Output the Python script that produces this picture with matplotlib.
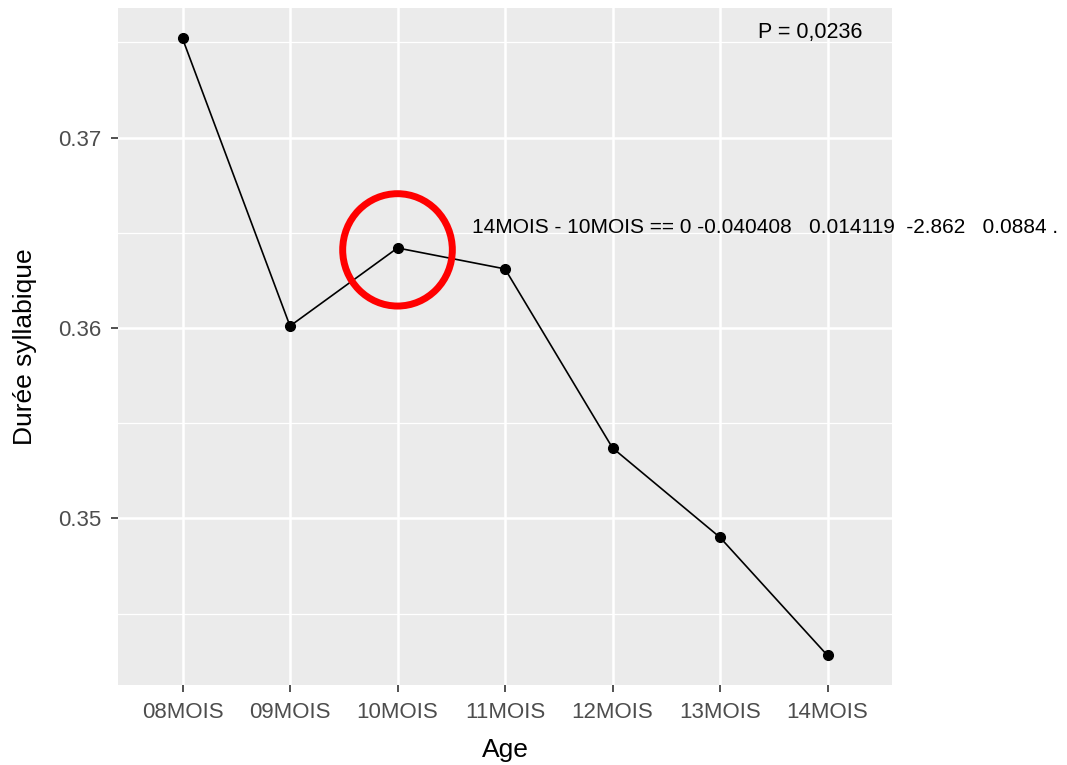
import numpy as np
import matplotlib.pyplot as plt
from matplotlib.patches import Ellipse
from matplotlib.ticker import MultipleLocator

plt.rcParams['font.family'] = ['Liberation Sans', 'DejaVu Sans']

ages = ['08MOIS', '09MOIS', '10MOIS', '11MOIS', '12MOIS', '13MOIS', '14MOIS']
duree = [0.3752, 0.3601, 0.3642, 0.3631, 0.3537, 0.3490, 0.3428]

annot_text = '14MOIS - 10MOIS == 0 -0.040408   0.014119  -2.862   0.0884 .'
p_text = 'P = 0,0236'

fig = plt.figure(figsize=(10.67, 7.65), dpi=100)
ax = fig.add_axes([0.1106, 0.1046, 0.7254, 0.8849])
ax.set_facecolor('#EBEBEB')

x = np.arange(1, len(ages) + 1)
ax.plot(x, duree, color='black', lw=1.2, marker='o', ms=7, zorder=3)

ax.set_xlim(0.4, len(ages) + 0.6)
ax.set_xticks(x)
ax.set_xticklabels(ages)
ax.yaxis.set_minor_locator(MultipleLocator(0.005))
ax.set_yticks([0.35, 0.36, 0.37])
ax.set_yticklabels(['0.35', '0.36', '0.37'])
ax.set_ylim(0.34125, 0.37680)

ax.grid(which='major', color='white', lw=1.8)
ax.grid(which='minor', axis='y', color='white', lw=0.9)
ax.set_axisbelow(True)
for s in ax.spines.values():
    s.set_visible(False)
ax.tick_params(which='major', colors='#333333', labelcolor='#4D4D4D',
               length=5, width=1.2, labelsize=16, pad=7)
ax.tick_params(which='minor', length=0)

ax.set_xlabel('Age', fontsize=19, color='black', labelpad=11)
ax.set_ylabel('Durée syllabique', fontsize=19, color='black', labelpad=15)

ring = Ellipse((3, 0.3641), width=1.02, height=0.0059, fill=False,
               edgecolor='#FF0000', lw=5, zorder=4)
ax.add_patch(ring)

fig.text(0.4424, 0.702, annot_text, fontsize=15, va='center', ha='left')
fig.text(0.710, 0.958, p_text, fontsize=15.5, va='center', ha='left')

fig.savefig('out.png', dpi=100)
